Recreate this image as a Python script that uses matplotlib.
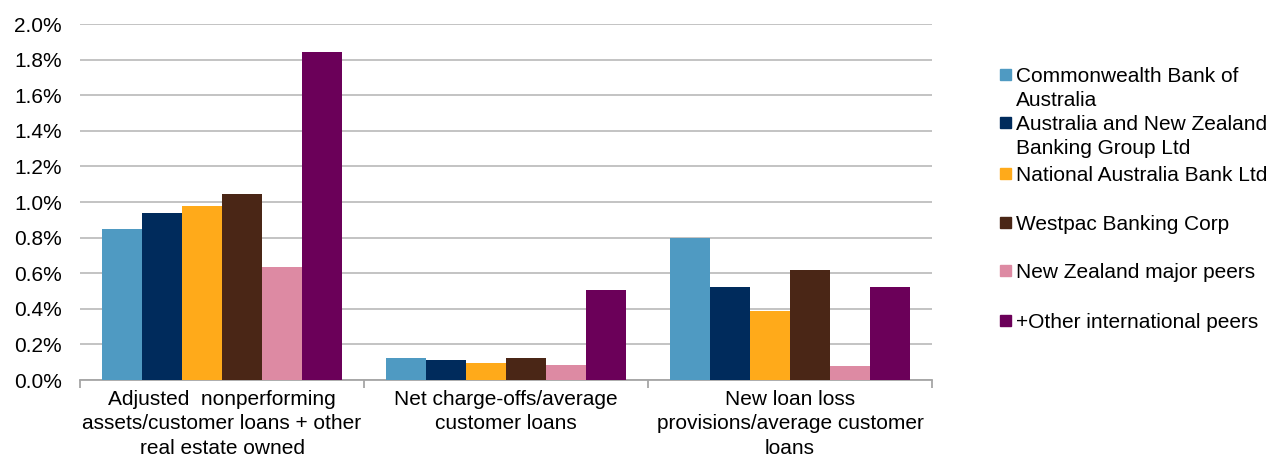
import matplotlib.pyplot as plt
import matplotlib.ticker as mticker
from matplotlib.patches import Rectangle
import numpy as np

plt.rcParams['font.family'] = ['Liberation Sans', 'DejaVu Sans']

categories = ['Adjusted  nonperforming\nassets/customer loans + other\nreal estate owned',
              'Net charge-offs/average\ncustomer loans',
              'New loan loss\nprovisions/average customer\nloans']
banks = ['Commonwealth Bank of\nAustralia',
         'Australia and New Zealand\nBanking Group Ltd',
         'National Australia Bank Ltd',
         'Westpac Banking Corp',
         'New Zealand major peers',
         '+Other international peers']
# values in percent, one list per bank (order of categories)
cba = [0.85, 0.125, 0.80]
anz = [0.94, 0.115, 0.52]
nab = [0.975, 0.095, 0.385]
wbc = [1.045, 0.125, 0.62]
nz_peers = [0.635, 0.085, 0.08]
intl_peers = [1.84, 0.505, 0.52]
colors = ['#4F9AC2', '#002B5C', '#FFAA1A', '#4A2616', '#DD8AA3', '#6B0059']

series = [cba, anz, nab, wbc, nz_peers, intl_peers]

fig = plt.figure(figsize=(12.7, 4.59), dpi=100)
ax = fig.add_axes([80/1270, 1-380/459, 852/1270, 356/459])

x = np.arange(len(categories))
w = 40/284
for i, vals in enumerate(series):
    ax.bar(x + (i - 2.5)*w, vals, width=w, color=colors[i], zorder=3)

ax.set_xlim(-0.5, 2.5)
ax.set_ylim(0, 2.0)
ax.yaxis.set_major_locator(mticker.MultipleLocator(0.2))
ax.yaxis.set_major_formatter(mticker.FuncFormatter(lambda v, p: '%.1f%%' % v))
ax.grid(axis='y', color='#BEBEBE', linewidth=1.3, zorder=0)
for s in ['top', 'right', 'left']:
    ax.spines[s].set_visible(False)
ax.spines['bottom'].set_color('#A6A6A6')
ax.spines['bottom'].set_linewidth(1.3)
ax.tick_params(axis='y', length=0, pad=13, labelsize=15)
ax.set_xticks(x)
ax.set_xticklabels(categories, fontsize=15, linespacing=1.36)
ax.tick_params(axis='x', length=0, pad=7)
ax.set_xticks([-0.5, 0.5, 1.5, 2.5], minor=True)
ax.tick_params(axis='x', which='minor', length=6, color='#A6A6A6', width=1.3)

# legend drawn by hand so the markers line up with the first line of text
marker_y = [74, 123, 173, 222, 270, 320]
for i, lab in enumerate(banks):
    yc = 1 - marker_y[i]/459
    fig.patches.append(Rectangle((1000/1270, yc - 5.5/459), 11/1270, 11/459,
                                 transform=fig.transFigure, color=colors[i]))
    for k, line in enumerate(lab.split('\n')):
        fig.text(1016/1270, yc - k*24/459, line, fontsize=15, va='center_baseline')

fig.savefig('out.png', dpi=100)
